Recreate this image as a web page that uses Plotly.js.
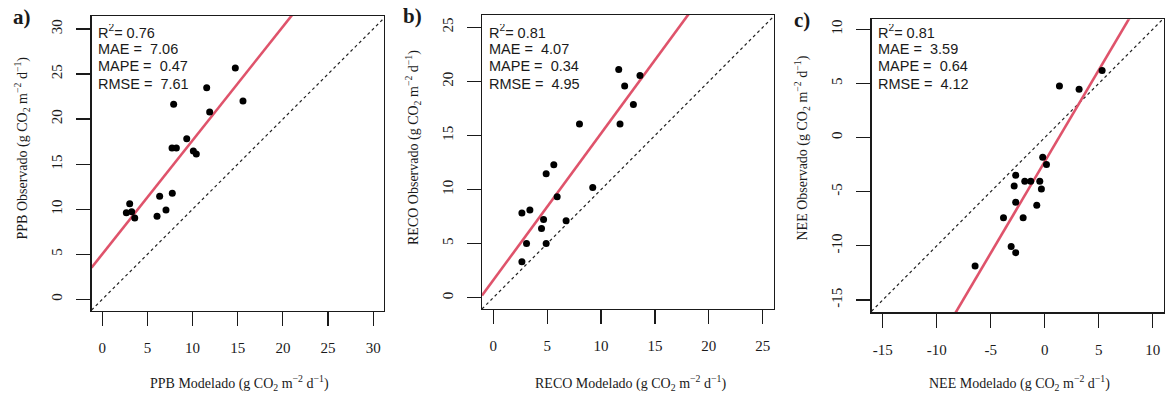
<!DOCTYPE html>
<html>
<head>
<meta charset="utf-8">
<script src="https://cdn.plot.ly/plotly-3.0.1.min.js"></script>
<style>html,body{margin:0;padding:0;background:#fff;}#chart{width:1168px;height:396px;}</style>
</head>
<body>
<div id="chart"></div>
<script>
// ---- data ----
const ppbModelado = [14.73, 11.56, 15.58, 7.90, 11.89, 9.35, 7.72, 8.20, 10.08, 10.41, 7.75, 6.35, 3.03, 2.66, 3.25, 3.59, 7.05, 6.06];
const ppbObservado = [25.67, 23.49, 22.00, 21.64, 20.79, 17.83, 16.79, 16.79, 16.46, 16.13, 11.76, 11.43, 10.61, 9.61, 9.72, 9.02, 9.91, 9.21];

const recoModelado = [11.64, 13.61, 12.19, 13.00, 8.00, 11.76, 5.62, 4.91, 9.23, 5.93, 3.40, 2.66, 4.67, 6.76, 4.48, 3.09, 4.91, 2.66];
const recoObservado = [21.10, 20.55, 19.57, 17.87, 16.05, 16.05, 12.29, 11.46, 10.20, 9.33, 8.10, 7.83, 7.24, 7.12, 6.41, 5.02, 5.02, 3.33];

const neeModelado = [5.31, 1.36, 3.18, -0.19, 0.16, -2.69, -1.85, -1.30, -0.46, -2.83, -0.31, -2.69, -0.74, -3.82, -2.00, -3.11, -2.69, -6.45];
const neeObservado = [6.18, 4.76, 4.46, -1.82, -2.50, -3.48, -4.04, -4.04, -4.04, -4.47, -4.75, -5.97, -6.25, -7.40, -7.40, -10.07, -10.63, -11.86];

const panelLetters = ["a)", "b)", "c)"];
const variableNames = ["PPB", "RECO", "NEE"];
const r2Values = ["0.76", "0.81", "0.81"];
const maeValues = ["7.06", "4.07", "3.59"];
const mapeValues = ["0.47", "0.34", "0.64"];
const rmseValues = ["7.61", "4.95", "4.12"];
const fitIntercepts = [5.02, 1.61, -2.22];
const fitSlopes = [1.262, 1.358, 1.69];
const xTickValues = [[0, 5, 10, 15, 20, 25, 30], [0, 5, 10, 15, 20, 25], [-15, -10, -5, 0, 5, 10]];
const yTickValues = [[0, 5, 10, 15, 20, 25, 30], [0, 5, 10, 15, 20, 25], [-15, -10, -5, 0, 5, 10]];

// ---- layout geometry (pixels) ----
const W = 1168, H = 396;
const boxes = [
  {l: 91.5, r: 384, t: 16, b: 311, xr: [-1.2, 31.2], yr: [-1.30, 31.44]},
  {l: 482, r: 774, t: 15, b: 309, xr: [-1.04, 26.04], yr: [-1.045, 26.14]},
  {l: 871.5, r: 1164, t: 19.3, b: 312.3, xr: [-16.04, 11.04], yr: [-16.14, 10.92]}
];
const px = x => x / W;
const py = y => 1 - y / H;

const series = [[ppbModelado, ppbObservado], [recoModelado, recoObservado], [neeModelado, neeObservado]];
const unit = " (g CO<sub>2</sub> m<sup>\u22122</sup> d<sup>\u22121</sup>)";
const sans = "Liberation Sans, Arial, sans-serif";
const serif = "Liberation Serif, Times New Roman, serif";
const ink = "#1a1a1a";

const traces = [];
const layout = {
  width: W, height: H,
  margin: {l: 0, r: 0, t: 0, b: 0},
  paper_bgcolor: "#fff", plot_bgcolor: "#fff",
  showlegend: false,
  annotations: []
};

boxes.forEach((bx, i) => {
  const sfx = i === 0 ? "" : String(i + 1);
  const xa = "x" + sfx, ya = "y" + sfx;
  const axisCommon = {
    showgrid: false, zeroline: false,
    showline: true, mirror: true, linecolor: ink, linewidth: 1.2,
    ticks: "outside", ticklen: 14, tickwidth: 1.2, tickcolor: ink,
    tickfont: {family: serif, size: 15, color: ink},
    tickmode: "array", fixedrange: true
  };
  layout["xaxis" + sfx] = Object.assign({}, axisCommon, {
    domain: [px(bx.l), px(bx.r)], range: bx.xr, anchor: ya,
    tickvals: xTickValues[i], ticktext: xTickValues[i].map(String),
    ticklabelstandoff: 9
  });
  layout["yaxis" + sfx] = Object.assign({}, axisCommon, {
    domain: [py(bx.b), py(bx.t)], range: bx.yr, anchor: xa,
    tickvals: yTickValues[i], ticktext: yTickValues[i].map(String),
    tickangle: -90, ticklabelstandoff: 8
  });

  const xs = series[i][0], ys = series[i][1];
  // 1:1 line
  traces.push({
    x: [bx.xr[0], bx.xr[1]], y: [bx.xr[0], bx.xr[1]],
    xaxis: xa, yaxis: ya, mode: "lines", hoverinfo: "skip",
    line: {color: "#222", width: 1.2, dash: "3px,3px"}
  });
  // fitted line
  traces.push({
    x: [bx.xr[0], bx.xr[1]],
    y: [fitIntercepts[i] + fitSlopes[i] * bx.xr[0], fitIntercepts[i] + fitSlopes[i] * bx.xr[1]],
    xaxis: xa, yaxis: ya, mode: "lines", hoverinfo: "skip",
    line: {color: "#DF536B", width: 2.6}
  });
  // points
  traces.push({
    x: xs, y: ys, xaxis: xa, yaxis: ya, mode: "markers",
    marker: {color: "#000", size: 7}
  });

  // stats text
  const stats = [
    "R<sup>2</sup>= " + r2Values[i],
    "MAE =\u00a0 " + maeValues[i],
    "MAPE =\u00a0 " + mapeValues[i],
    "RMSE =\u00a0 " + rmseValues[i]
  ];
  const lineY = [31.5, 48.5, 66, 83.5];
  stats.forEach((s, k) => {
    layout.annotations.push({
      xref: "paper", yref: "paper", x: px(bx.l + 4.5), y: py(lineY[k]),
      xanchor: "left", yanchor: "middle", showarrow: false, text: s,
      height: 15, valign: "middle",
      font: {family: sans, size: 14.5, color: ink}
    });
  });

  // axis titles
  const cx = (bx.l + bx.r) / 2;
  layout.annotations.push({
    xref: "paper", yref: "paper", x: px(cx + 2), y: py(383),
    xanchor: "center", yanchor: "middle", showarrow: false,
    text: variableNames[i] + " Modelado" + unit,
    font: {family: serif, size: 14, color: ink}
  });
  layout.annotations.push({
    xref: "paper", yref: "paper", x: px(bx.l - 69), y: py(148),
    xanchor: "center", yanchor: "middle", showarrow: false, textangle: -90,
    text: variableNames[i] + " Observado" + unit,
    font: {family: serif, size: 14, color: ink}
  });
  // panel letter
  layout.annotations.push({
    xref: "paper", yref: "paper", x: px(bx.l - 70), y: py(bx.t + 1),
    xanchor: "center", yanchor: "middle", showarrow: false,
    text: "<b>" + panelLetters[i] + "</b>",
    font: {family: serif, size: 21, color: ink}
  });
});

Plotly.newPlot("chart", traces, layout, {displayModeBar: false, staticPlot: true});
</script>
</body>
</html>
